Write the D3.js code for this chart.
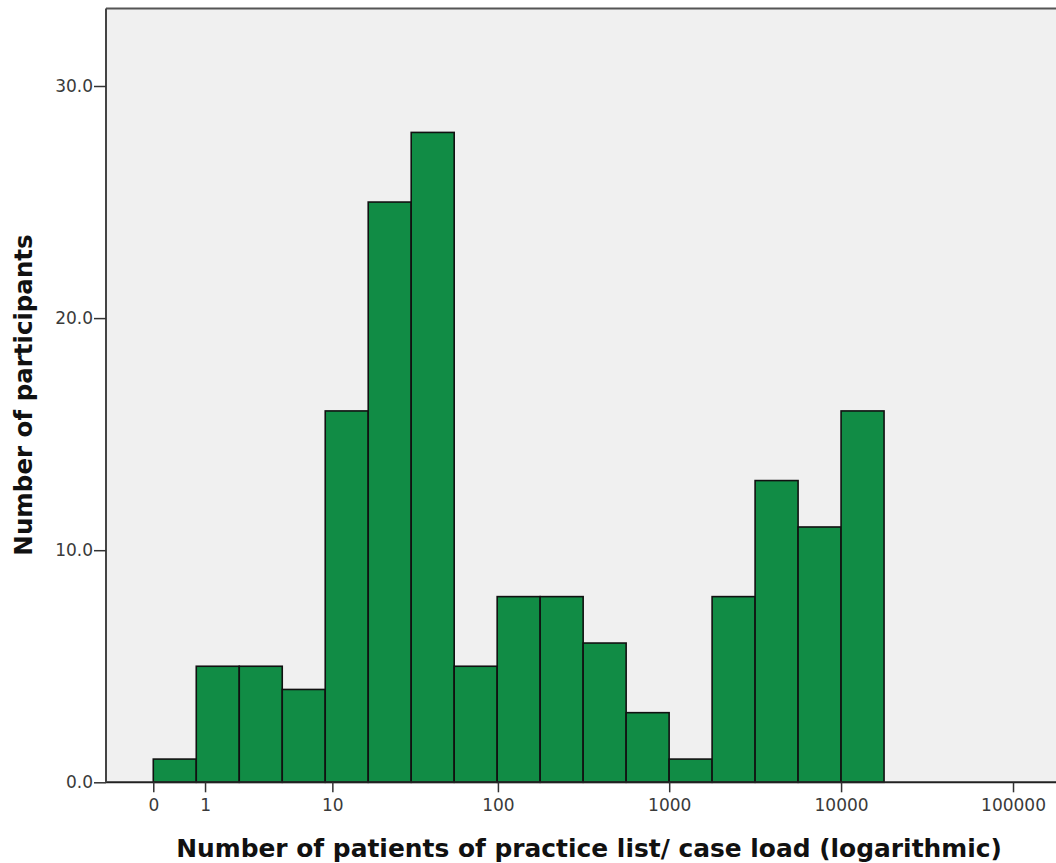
<!DOCTYPE html>
<html>
<head>
<meta charset="utf-8">
<script src="https://cdn.jsdelivr.net/npm/d3@7"></script>
<style>
  html, body { margin: 0; padding: 0; background: #ffffff; }
  svg { display: block; }
</style>
</head>
<body>
<svg id="chart" width="1056" height="863"></svg>
<script>
// ---- data ----
// bin edges on the log10(patients + 1) scale
const binStarts = [0, 0.25, 0.5, 0.75, 1.0, 1.25, 1.5, 1.75, 2.0, 2.25, 2.5, 2.75, 3.0, 3.25, 3.5, 3.75, 4.0];
const binWidth = 0.25;
const counts = [1, 5, 5, 4, 16, 25, 28, 5, 8, 8, 6, 3, 1, 8, 13, 11, 16];
const xTickValues = [0, 1, 10, 100, 1000, 10000, 100000];
const yTickValues = [0, 10, 20, 30];
const xTitle = "Number of patients of practice list/ case load (logarithmic)";
const yTitle = "Number of participants";

// ---- layout ----
const svg = d3.select("#chart");
const plotLeft = 106, plotTop = 8.5, plotBottom = 782.3, plotRight = 1060;

const tScale = d3.scaleLinear().domain([-0.275, 5.25]).range([106, 1056]);
const y = d3.scaleLinear().domain([0, 30]).range([782.3, 86]);

// background
svg.append("rect")
  .attr("x", plotLeft).attr("y", plotTop)
  .attr("width", plotRight - plotLeft).attr("height", plotBottom - plotTop)
  .attr("fill", "#f0f0f0");

// bars
svg.append("g").selectAll("rect")
  .data(counts.map((c, i) => ({ t0: binStarts[i], t1: binStarts[i] + binWidth, c })))
  .join("rect")
  .attr("x", d => tScale(d.t0))
  .attr("y", d => y(d.c))
  .attr("width", d => tScale(d.t1) - tScale(d.t0))
  .attr("height", d => y(0) - y(d.c))
  .attr("fill", "#118c45")
  .attr("stroke", "#111")
  .attr("stroke-width", 1.6);

// top border
svg.append("line")
  .attr("x1", plotLeft).attr("x2", plotRight)
  .attr("y1", plotTop).attr("y2", plotTop)
  .attr("stroke", "#555").attr("stroke-width", 2);

// x axis
const xAxis = d3.axisBottom(tScale)
  .tickValues(xTickValues.map(v => Math.log10(v + 1)))
  .tickFormat((d, i) => String(xTickValues[i]))
  .tickSize(10).tickSizeOuter(0).tickPadding(7);
const gx = svg.append("g").attr("transform", `translate(0,${plotBottom})`).call(xAxis);
gx.select(".domain").attr("stroke", "#222").attr("stroke-width", 2)
  .attr("d", `M${plotLeft},0H${plotRight}`);
gx.selectAll(".tick line").attr("stroke", "#333").attr("stroke-width", 1.5);
gx.selectAll(".tick text")
  .attr("fill", "#3a3a3a")
  .style("font-family", "'DejaVu Sans', sans-serif")
  .style("font-size", "17px");

// y axis
const yAxis = d3.axisLeft(y)
  .tickValues(yTickValues)
  .tickFormat(d3.format(".1f"))
  .tickSize(12).tickSizeOuter(0).tickPadding(1);
const gy = svg.append("g").attr("transform", `translate(${plotLeft},0)`).call(yAxis);
gy.select(".domain").attr("stroke", "#444").attr("stroke-width", 2)
  .attr("d", `M0,${plotTop}V${plotBottom}`);
gy.selectAll(".tick line").attr("stroke", "#333").attr("stroke-width", 1.5);
gy.selectAll(".tick text")
  .attr("fill", "#3a3a3a")
  .style("font-family", "'DejaVu Sans', sans-serif")
  .style("font-size", "17px");

// axis titles
svg.append("text")
  .attr("x", 589).attr("y", 857)
  .attr("text-anchor", "middle")
  .style("font-family", "'DejaVu Sans', sans-serif")
  .style("font-weight", "bold")
  .style("font-size", "24.9px")
  .attr("fill", "#111")
  .text(xTitle);

svg.append("text")
  .attr("transform", `translate(32,395) rotate(-90)`)
  .attr("text-anchor", "middle")
  .style("font-family", "'DejaVu Sans', sans-serif")
  .style("font-weight", "bold")
  .style("font-size", "24.5px")
  .attr("fill", "#111")
  .text(yTitle);
</script>
</body>
</html>
